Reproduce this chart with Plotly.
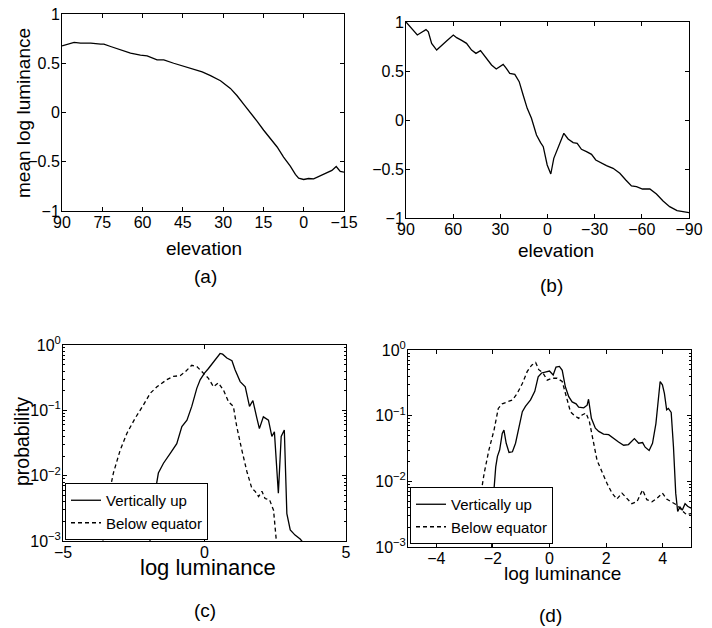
import numpy as np
import plotly.graph_objects as go

# ---------------- data ----------------
# (a) mean log luminance vs elevation (90 .. -15)
a_elev = [90, 88.0, 85.5, 83.1, 79.3, 75.6, 74.4, 71.9, 68.2, 64.5, 60.8, 58.3, 54.6, 52.1,
          48.4, 44.6, 40.9, 37.8, 34.7, 31.0, 27.3, 24.8, 22.3, 19.9, 17.4, 14.9, 12.4, 9.9,
          7.5, 5.0, 3.1, 1.9, 0.0, -1.8, -3.7, -5.5, -8.0, -10.5, -12.1, -13.6, -15]
a_mean = [0.677, 0.694, 0.711, 0.704, 0.704, 0.694, 0.694, 0.670, 0.636, 0.602, 0.582, 0.575,
          0.534, 0.534, 0.500, 0.466, 0.432, 0.412, 0.374, 0.323, 0.245, 0.170, 0.082, 0.003,
          -0.088, -0.180, -0.262, -0.350, -0.452, -0.544, -0.629, -0.667, -0.680, -0.670,
          -0.673, -0.650, -0.612, -0.588, -0.548, -0.599, -0.605]

# (b) mean log luminance vs elevation (90 .. -90)
b_elev = [90, 86.4, 82.8, 80.0, 77.3, 75.8, 73.7, 70.5, 67.3, 64.2, 59.9, 57.8, 54.6, 51.5,
          48.3, 45.5, 42.6, 38.8, 35.6, 32.6, 28.2, 26.2, 24.0, 20.8, 18.0, 15.5, 12.9, 10.2,
          7.0, 4.4, 2.7, 0.2, -2.1, -4.0, -5.7, -7.8, -10.4, -13.1, -16.3, -18.9, -21.6, -24.8,
          -28.0, -30.7, -34.3, -37.5, -41.7, -46.0, -49.8, -53.4, -56.6, -60.4, -65.1, -69.3,
          -73.5, -77.7, -82.4, -87.3, -90]
b_mean = [1.0, 0.935, 0.867, 0.895, 0.922, 0.900, 0.782, 0.714, 0.765, 0.806, 0.867, 0.840,
          0.813, 0.782, 0.714, 0.680, 0.707, 0.629, 0.561, 0.520, 0.568, 0.527, 0.476, 0.466,
          0.391, 0.255, 0.119, 0.017, -0.153, -0.231, -0.272, -0.459, -0.551, -0.391, -0.323,
          -0.221, -0.136, -0.194, -0.231, -0.238, -0.299, -0.323, -0.350, -0.408, -0.442,
          -0.466, -0.493, -0.544, -0.612, -0.673, -0.680, -0.704, -0.704, -0.755, -0.827,
          -0.884, -0.925, -0.935, -0.946]

# (c) histograms, probability given as log10 values
c_up_x = [-1.95, -1.77, -1.63, -1.45, -1.21, -0.98, -0.80, -0.62, -0.45, -0.27, -0.15, 0.00,
          0.14, 0.32, 0.44, 0.55, 0.64, 0.79, 0.97, 1.08, 1.26, 1.44, 1.59, 1.71, 1.85, 1.94,
          2.08, 2.26, 2.38, 2.47, 2.61, 2.71, 2.82, 2.91, 3.03, 3.20, 3.38, 3.46]
c_up_log10 = [-3.1, -2.32, -1.96, -1.81, -1.66, -1.51, -1.25, -1.15, -0.94, -0.66, -0.53,
              -0.43, -0.36, -0.26, -0.18, -0.13, -0.14, -0.20, -0.24, -0.38, -0.56, -0.64,
              -0.94, -0.85, -1.12, -1.28, -1.10, -1.15, -1.40, -1.33, -2.27, -1.40, -1.30,
              -2.58, -2.83, -2.91, -2.97, -3.01]
c_below_x = [-3.6, -3.39, -3.22, -2.98, -2.74, -2.45, -2.16, -1.92, -1.68, -1.33, -1.10,
             -0.86, -0.68, -0.45, -0.27, -0.04, 0.14, 0.32, 0.49, 0.67, 0.85, 1.02, 1.14,
             1.32, 1.50, 1.67, 1.79, 1.91, 2.03, 2.14, 2.30, 2.44, 2.56]
c_below_log10 = [-3.05, -2.32, -1.96, -1.61, -1.35, -1.12, -0.92, -0.74, -0.64, -0.53, -0.48,
                 -0.47, -0.41, -0.31, -0.33, -0.43, -0.51, -0.64, -0.58, -0.69, -0.87, -0.94,
                 -1.25, -1.61, -1.94, -2.19, -2.24, -2.32, -2.24, -2.35, -2.37, -2.53, -3.1]

# (d)
d_up_x = [-2.05, -2.00, -1.90, -1.84, -1.76, -1.67, -1.61, -1.53, -1.43, -1.31, -1.20, -1.08,
          -0.96, -0.85, -0.67, -0.52, -0.40, -0.28, -0.14, 0.00, 0.13, 0.23, 0.35, 0.45, 0.56,
          0.68, 0.80, 0.94, 1.03, 1.21, 1.33, 1.38, 1.48, 1.62, 1.74, 1.91, 2.09, 2.27, 2.44,
          2.62, 2.79, 3.00, 3.15, 3.29, 3.38, 3.52, 3.64, 3.76, 3.85, 3.91, 3.99, 4.06, 4.14,
          4.20, 4.30, 4.38, 4.46, 4.53, 4.61, 4.69, 4.79, 4.88, 5.00]
d_up_log10 = [-3.1, -2.34, -1.78, -1.62, -1.52, -1.27, -1.22, -1.42, -1.56, -1.55, -1.42,
              -1.17, -0.94, -0.86, -0.76, -0.63, -0.41, -0.35, -0.33, -0.32, -0.38, -0.26,
              -0.25, -0.31, -0.56, -0.71, -0.79, -0.82, -0.87, -0.88, -0.84, -0.75, -1.04,
              -1.19, -1.24, -1.28, -1.29, -1.35, -1.40, -1.45, -1.44, -1.35, -1.42, -1.41,
              -1.48, -1.53, -1.42, -1.12, -0.76, -0.48, -0.53, -0.66, -0.91, -0.89, -0.95,
              -1.47, -2.18, -2.46, -2.39, -2.44, -2.34, -2.38, -2.41]
d_below_x = [-3.30, -3.19, -3.08, -2.98, -2.90, -2.78, -2.61, -2.46, -2.31, -2.14, -1.96,
             -1.81, -1.67, -1.49, -1.31, -1.14, -0.96, -0.79, -0.63, -0.49, -0.38, -0.23,
             -0.08, 0.09, 0.27, 0.45, 0.62, 0.74, 0.86, 1.03, 1.15, 1.29, 1.41, 1.53, 1.68,
             1.85, 2.03, 2.21, 2.38, 2.56, 2.73, 2.91, 3.09, 3.29, 3.44, 3.62, 3.79, 3.99,
             4.14, 4.32, 4.50, 4.67, 4.85, 5.00]
d_below_log10 = [-2.55, -2.36, -2.31, -2.18, -2.24, -2.32, -2.34, -2.29, -1.88, -1.52, -1.22,
                 -0.89, -0.82, -0.79, -0.76, -0.66, -0.51, -0.33, -0.23, -0.19, -0.30, -0.35,
                 -0.46, -0.43, -0.43, -0.48, -0.76, -0.94, -0.99, -1.04, -0.99, -0.96, -1.09,
                 -1.35, -1.68, -1.85, -2.03, -2.18, -2.27, -2.18, -2.26, -2.34, -2.31, -2.13,
                 -2.28, -2.31, -2.26, -2.18, -2.27, -2.32, -2.36, -2.44, -2.51, -2.49]

a_xticks = [90, 75, 60, 45, 30, 15, 0, -15]
b_xticks = [90, 60, 30, 0, -30, -60, -90]
lin_yticks = [-1, -0.5, 0, 0.5, 1]
c_xticks = [-5, 0, 5]
d_xticks = [-4, -2, 0, 2, 4]
log_yticks = [1e-3, 1e-2, 1e-1, 1]
log_yticktext = ["10<sup>\u22123</sup>", "10<sup>\u22122</sup>", "10<sup>\u22121</sup>", "10<sup>0</sup>"]
series_names = ["Vertically up", "Below equator"]

# ---------------- layout helpers ----------------
W, H = 712, 628
OFF = 8  # the page body adds an 8px margin around the figure
FONT = "Liberation Sans, Arial, Helvetica, sans-serif"


def px_x(p):
    return (p - OFF) / W


def px_y(p):
    return 1 - (p - OFF) / H


def axis_common(**kw):
    d = dict(showline=True, linecolor="black", linewidth=1, mirror="ticks",
             ticks="inside", ticklen=4, tickwidth=1, tickcolor="black",
             showgrid=False, zeroline=False, automargin=False,
             ticklabeloverflow="allow",
             tickfont=dict(family=FONT, size=16, color="black"))
    d.update(kw)
    return d


def xaxis_cfg(**kw):
    return axis_common(ticklabelstandoff=-3, **kw)


def yaxis_cfg(**kw):
    return axis_common(ticklabelstandoff=-2, **kw)


solid = dict(color="black", width=1.3)
dashed = dict(color="black", width=1.3, dash="4px,3px")

fig = go.Figure()
fig.add_trace(go.Scatter(x=a_elev, y=a_mean, mode="lines", line=solid, showlegend=False,
                         xaxis="x", yaxis="y"))
fig.add_trace(go.Scatter(x=b_elev, y=b_mean, mode="lines", line=solid, showlegend=False,
                         xaxis="x2", yaxis="y2"))
fig.add_trace(go.Scatter(x=c_up_x, y=np.power(10.0, c_up_log10), mode="lines", line=solid,
                         name=series_names[0], xaxis="x3", yaxis="y3", legend="legend"))
fig.add_trace(go.Scatter(x=c_below_x, y=np.power(10.0, c_below_log10), mode="lines", line=dashed,
                         name=series_names[1], xaxis="x3", yaxis="y3", legend="legend"))
fig.add_trace(go.Scatter(x=d_up_x, y=np.power(10.0, d_up_log10), mode="lines", line=solid,
                         name=series_names[0], xaxis="x4", yaxis="y4", legend="legend2"))
fig.add_trace(go.Scatter(x=d_below_x, y=np.power(10.0, d_below_log10), mode="lines", line=dashed,
                         name=series_names[1], xaxis="x4", yaxis="y4", legend="legend2"))

minor_log = dict(ticks="inside", ticklen=2, tickcolor="black", dtick="D1", showgrid=False)

legend_common = dict(bgcolor="white", bordercolor="black", borderwidth=1,
                     font=dict(family=FONT, size=15, color="black"),
                     xanchor="left", yanchor="bottom", tracegroupgap=0,
                     itemwidth=30)

fig.update_layout(
    template="none",
    width=W, height=H, margin=dict(l=0, r=0, t=0, b=0, pad=0, autoexpand=False),
    paper_bgcolor="white", plot_bgcolor="white",
    font=dict(family=FONT, color="black"),
    xaxis=xaxis_cfg(domain=[px_x(62), px_x(344)], range=[90, -15], tickvals=a_xticks,
                    anchor="y"),
    yaxis=yaxis_cfg(domain=[px_y(211), px_y(14)], range=[-1, 1], tickvals=lin_yticks,
                    anchor="x"),
    xaxis2=xaxis_cfg(domain=[px_x(406), px_x(689)], range=[90, -90], tickvals=b_xticks,
                     anchor="y2"),
    yaxis2=yaxis_cfg(domain=[px_y(218), px_y(22)], range=[-1, 1], tickvals=lin_yticks,
                     anchor="x2"),
    xaxis3=xaxis_cfg(domain=[px_x(63), px_x(346)], range=[-5, 5], tickvals=c_xticks,
                     anchor="y3"),
    yaxis3=yaxis_cfg(domain=[px_y(541), px_y(345)], type="log", range=[-3, 0],
                     tickvals=log_yticks, ticktext=log_yticktext, anchor="x3",
                     minor=minor_log),
    xaxis4=xaxis_cfg(domain=[px_x(408), px_x(691)], range=[-5, 5], tickvals=d_xticks,
                     anchor="y4"),
    yaxis4=yaxis_cfg(domain=[px_y(547), px_y(350)], type="log", range=[-3, 0],
                     tickvals=log_yticks, ticktext=log_yticktext, anchor="x4",
                     minor=minor_log),
    legend=dict(legend_common, x=px_x(65), y=px_y(540)),
    legend2=dict(legend_common, x=px_x(410), y=px_y(544)),
)


def label(text, x, y, size=19, angle=0):
    fig.add_annotation(text=text, x=px_x(x), y=px_y(y), xref="paper", yref="paper",
                       showarrow=False, xanchor="center", yanchor="middle", textangle=angle,
                       font=dict(family=FONT, size=size, color="black"))


label("mean log luminance", 23, 113, angle=-90)
label("elevation", 204, 248)
label("(a)", 205, 276)
label("elevation", 556, 250)
label("(b)", 551, 285)
label("probability", 22, 442, size=19.5, angle=-90)
label("log luminance", 208, 567, size=22)
label("(c)", 205, 610)
label("log luminance", 562, 573)
label("(d)", 550, 615)

fig.write_html("out.html")
